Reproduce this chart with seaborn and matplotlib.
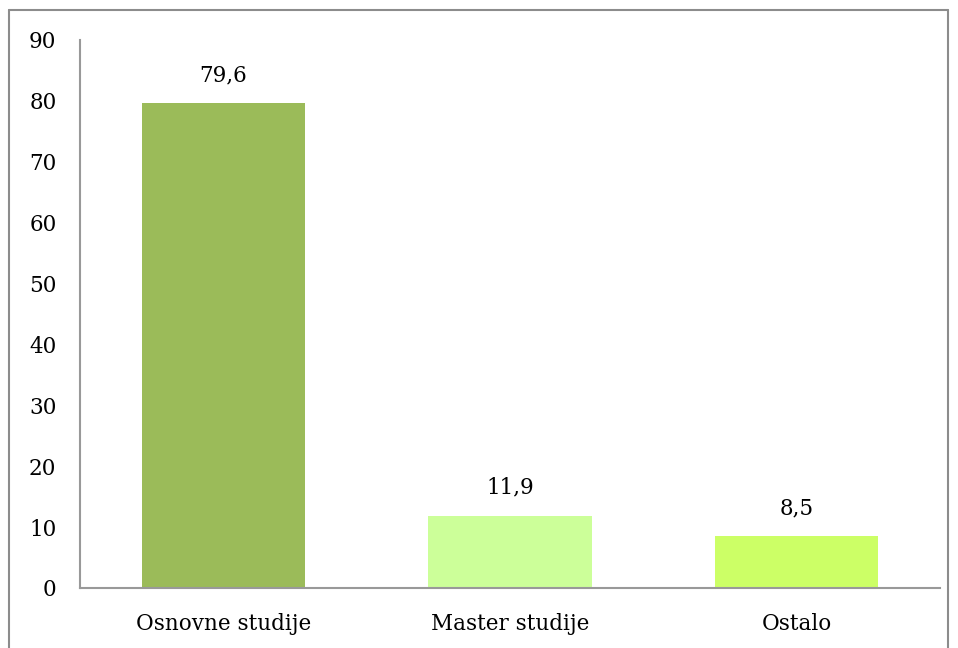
import matplotlib
matplotlib.use("Agg")
import matplotlib.pyplot as plt
import seaborn as sns
import pandas as pd
from matplotlib.lines import Line2D

categories = ["Osnovne studije", "Master studije", "Ostalo"]
values = [79.6, 11.9, 8.5]
labels = ["79,6", "11,9", "8,5"]
colors = ["#9BBB59", "#CCFF99", "#CCFF66"]
yticks = [0, 10, 20, 30, 40, 50, 60, 70, 80, 90]

sns.set_theme(style="white")
plt.rcParams['font.family'] = ['DejaVu Serif']
plt.rcParams['text.color'] = 'black'
plt.rcParams['xtick.color'] = 'black'
plt.rcParams['ytick.color'] = 'black'

df = pd.DataFrame({"cat": categories, "val": values})

fs = 15.5
fig = plt.figure(figsize=(9.58, 6.48), dpi=100)
ax = fig.add_axes([80/958, 1-588/648, 860/958, 548/648])
sns.barplot(data=df, x="cat", y="val", hue="cat", palette=colors, legend=False,
            width=0.57, ax=ax, saturation=1, linewidth=0)

ax.set_ylim(0, 90)
ax.set_yticks(yticks)
ax.set_yticklabels([str(t) for t in yticks], fontsize=fs)
ax.set_xlabel("")
ax.set_ylabel("")
ax.tick_params(axis="x", labelsize=fs, pad=18, length=0, labelcolor="black")
ax.tick_params(axis="y", pad=17, length=0, labelcolor="black")

for s in ["top", "right"]:
    ax.spines[s].set_visible(False)
for s in ["left", "bottom"]:
    ax.spines[s].set_color("#999999")
    ax.spines[s].set_linewidth(1.5)

for p, lab in zip(ax.patches, labels):
    ax.annotate(lab, (p.get_x() + p.get_width()/2, p.get_height()),
                xytext=(0, 12), textcoords="offset points", ha="center", va="bottom",
                fontsize=fs, color="black")

# outer frame
bc = "#8c8c8c"
fig.add_artist(Line2D([9/958, 9/958], [0, 1-10/648], transform=fig.transFigure, color=bc, lw=1.5))
fig.add_artist(Line2D([9/958, 948/958], [1-10/648, 1-10/648], transform=fig.transFigure, color=bc, lw=1.5))
fig.add_artist(Line2D([948/958, 948/958], [0, 1-10/648], transform=fig.transFigure, color=bc, lw=1.5))

fig.savefig("out.png", dpi=100)
